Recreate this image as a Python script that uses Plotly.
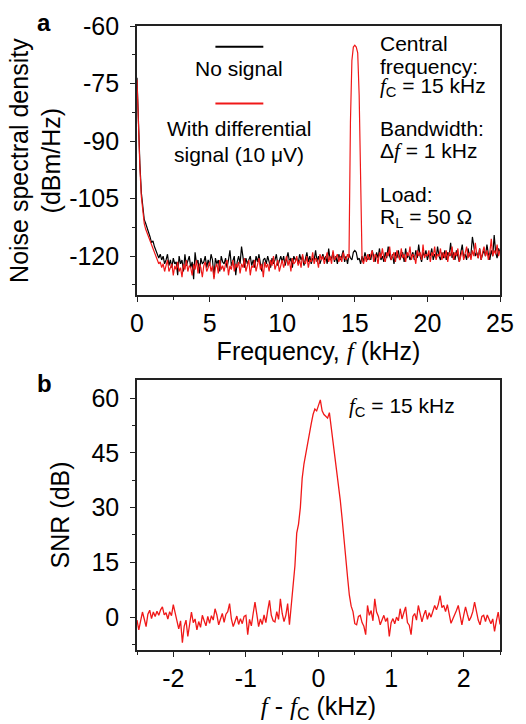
import numpy as np
import plotly.graph_objects as go

# --- Panel a: noise spectral density (dBm/Hz), sampled every 0.1 kHz from 0 to 25 kHz ---
freq_step_khz = 0.1
psd_no_signal = [
    -73.5, -86, -96, -103.5, -108, -110.5, -111.5, -112.5, -114, -115,
    -116.5, -116, -117.5, -118.5, -119, -120.5, -119.5, -121, -120, -122,
    -121, -119.5, -122.5, -121, -123, -120.5, -122, -121.5, -125, -120,
    -122, -121, -124, -119.5, -122.5, -121, -120, -123, -121.5, -126,
    -119, -122, -121, -124.5, -120.5, -122, -121.5, -120, -123, -121,
    -122.5, -119.5, -121, -125.5, -120.5, -122, -121, -124, -120, -121.5,
    -122, -120.5, -123, -121, -118.5, -122.5, -121, -120, -125, -121.5,
    -120, -122, -117.5, -121, -123, -120.5, -122, -121, -120, -122.5,
    -121, -123, -120, -121.5, -119.5, -122, -124, -121, -120.5, -122,
    -120, -121.5, -123, -120.5, -122, -121, -119.5, -122.5, -121, -120,
    -121.5, -120, -122.5, -121, -119, -121.5, -120.5, -123, -120, -121,
    -120.5, -122, -119.5, -121, -120, -122.5, -121, -119, -121.5, -120,
    -122, -120.5, -121, -118.5, -121.5, -120, -122, -120.5, -119.5, -121,
    -120, -122, -118, -121, -120.5, -119, -121.5, -120, -122, -119.5,
    -121, -120, -118.5, -121.5, -120, -122, -119.5, -120.5, -121, -119,
    -118.5, -119, -121, -120.5, -122, -120, -121.5, -119, -120.5, -121,
    -119.5, -121, -118.5, -120, -121.5, -119, -120.5, -118, -121, -120,
    -121.5, -119, -120.5, -117.5, -120, -121, -119.5, -122, -119, -120.5,
    -118.5, -121, -120, -119, -121.5, -118, -120.5, -119.5, -121, -120,
    -119, -121, -118.5, -120.5, -117, -120, -121.5, -119, -120, -118.5,
    -121, -119.5, -120, -118, -121, -119.5, -120.5, -117.5, -120, -121,
    -119, -120.5, -118.5, -121, -119, -120, -116.5, -120.5, -119, -121,
    -118.5, -120, -121.5, -119, -117, -120.5, -119.5, -121, -118, -120,
    -119.5, -115, -117.5, -120, -119, -120.5, -118, -121, -119.5, -118.5,
    -120, -117, -119.5, -121, -118.5, -120, -114.5, -119, -120.5, -118,
    -119,
]
psd_with_signal = [
    -74, -87, -97, -104.5, -109, -111.5, -113, -114, -115.5, -116.5,
    -117.5, -118, -119.5, -120.5, -121, -122, -121.5, -123, -122, -124,
    -122.5, -121, -124, -123, -122, -125, -122.5, -123.5, -121.5, -124,
    -123, -125.5, -122, -123.5, -121, -124, -122.5, -123, -125, -122,
    -123.5, -121, -124.5, -122, -123, -125.5, -122.5, -121.5, -124, -123,
    -121.5, -124, -122.5, -126, -123, -122, -124.5, -121, -123.5, -122.5,
    -124, -122, -121, -125, -122.5, -123.5, -121, -124, -122, -123,
    -121.5, -124.5, -122, -123, -120.5, -124, -122.5, -121, -125, -122.5,
    -123, -121, -124, -122, -120.5, -123.5, -122, -125.5, -121.5, -123,
    -122, -124, -121, -122.5, -120, -123.5, -122, -121, -124, -122.5,
    -121, -123, -121.5, -120, -122.5, -121, -124, -120.5, -122, -121.5,
    -120, -122.5, -121, -123, -119.5, -121.5, -122, -120, -123, -121,
    -121.5, -119, -122, -120.5, -121, -123, -119.5, -121, -120, -122,
    -120.5, -119, -121.5, -120, -122, -118.5, -121, -120, -119.5, -121.5,
    -120, -121.5, -119, -120.5, -121, -119.5, -120.5, -85, -69, -65.5,
    -65, -65.5, -67, -78, -104, -121, -122, -120, -121.5, -119.5,
    -121, -120, -118.5, -121.5, -119.5, -120, -122, -119, -120.5, -118,
    -120.5, -121.5, -119, -120, -117.5, -121, -120, -119, -121.5, -118.5,
    -120, -121, -118, -120.5, -119.5, -121.5, -119, -120, -117.5, -121,
    -119.5, -120, -122, -118.5, -120, -119, -121, -117, -120.5, -119.5,
    -120, -118.5, -121.5, -119, -120, -117.5, -121, -119.5, -120, -118,
    -121, -119, -120.5, -118.5, -121.5, -119, -120, -117.5, -121, -119,
    -120, -118, -121.5, -119.5, -118.5, -121, -119, -117.5, -120.5, -119,
    -121, -118.5, -120, -116.5, -119.5, -120.5, -118, -121, -119, -117.5,
    -120, -118.5, -121, -119, -115.5, -120, -118.5, -119.5, -117, -120,
    -118.5,
]

# --- Panel b: SNR (dB) versus f - fc, sampled every 0.025 kHz from -2.5 to 2.5 kHz ---
detune_step_khz = 0.025
snr_db = [
    -0.8, -3.5, -1.0, 1.4, -0.5, -2.6, 0.8, 1.9, -0.4, 1.4,
    0.2, 1.6, 0.5, 2.0, 2.8, 0.6, 1.2, -0.5, 1.5, 0.4,
    3.4, 1.0, -1.8, -3.2, -1.0, -7.0, -2.5, -0.8, -5.3, -2.0,
    1.4, -1.5, -0.5, -3.5, -1.2, -2.8, 0.5, -1.0, -2.4, 0.2,
    -1.7, 0.4, -0.8, 2.3, 0.6, -2.1, -0.5, 1.0, -1.4, 0.8,
    1.5, 3.7, -0.5, -2.6, -1.2, 0.3, -2.0, -0.4, -1.8, 0.2,
    0.5, -4.8, -0.6, -2.4, 1.0, 4.1, 0.8, -2.6, -0.5, -2.0,
    0.6, -1.5, 1.8, 4.6, 0.5, -1.0, -1.3, 1.5, -0.6, 5.0,
    1.0, -1.2, 0.5, 3.7, -2.1, 4.0, 8.6, 14.0, 23.0, 25.5,
    30.0, 38.0, 42.0, 45.0, 47.5, 50.0, 53.0, 55.5, 57.0, 56.5,
    58.0, 59.5, 56.5, 55.5, 55.0, 54.5, 56.0, 52.0, 48.0, 45.0,
    40.0, 35.5, 32.0, 27.0, 21.0, 15.0, 11.0, 6.0, 3.0, 1.5,
    -1.8, -2.1, 0.2, 0.5, -1.5, -2.5, -4.8, 3.2, 0.5, 1.8,
    -1.0, 5.0, 1.4, 0.2, -2.1, -0.8, 0.5, -1.2, -0.2, -5.3,
    -1.5, -0.4, -1.8, 0.0, -1.0, 2.3, -0.5, 1.2, 2.8, -1.5,
    -2.2, -4.8, 0.2, 1.0, -0.8, 3.2, 0.4, -1.3, 0.6, 1.9,
    -0.6, 1.2, 0.0, 1.8, 3.2, 2.0, 3.5, 5.9, 2.6, 3.2,
    1.5, 3.4, 0.6, -1.7, -0.5, 0.5, 1.8, 3.2, 0.2, -2.1,
    0.5, 2.8, 0.8, -1.0, 0.0, 1.5, 4.1, 1.0, -0.8, -2.1,
    0.2, 0.5, -1.2, 0.6, -0.4, -1.8, -0.5, -3.9, -1.0, 1.4,
    -2.0,
]

# tick labels (hyphen minus, as in the original figure)
psd_ticks = [-60, -75, -90, -105, -120]
psd_tick_text = ["-60", "-75", "-90", "-105", "-120"]
freq_ticks = [0, 5, 10, 15, 20, 25]
snr_ticks = [0, 15, 30, 45, 60]
detune_ticks = [-2, -1, 0, 1, 2]
detune_tick_text = ["-2", "-1", "0", "1", "2"]

freq = np.round(np.arange(len(psd_no_signal)) * freq_step_khz, 3)
detune = np.round(-2.5 + np.arange(len(snr_db)) * detune_step_khz, 3)

FONT = "Liberation Sans, Arial, sans-serif"
RED = "#f01818"
F_IT = '<span style="font-family:Liberation Serif"><i>f</i></span>'

fig = go.Figure()
fig.add_trace(go.Scatter(x=freq, y=psd_no_signal, mode="lines", name="No signal",
                         line=dict(color="black", width=1.2), xaxis="x", yaxis="y"))
fig.add_trace(go.Scatter(x=freq, y=psd_with_signal, mode="lines", name="With differential signal (10 μV)",
                         line=dict(color=RED, width=1.2), xaxis="x", yaxis="y"))
fig.add_trace(go.Scatter(x=detune, y=snr_db, mode="lines", name="SNR",
                         line=dict(color=RED, width=1.3), xaxis="x2", yaxis="y2"))

axis_common = dict(showline=True, linecolor="#222", linewidth=1.6, mirror=True,
                   ticks="outside", ticklen=5, tickwidth=1.4, tickcolor="#222",
                   showgrid=False, zeroline=False, ticklabeloverflow="allow",
                   tickfont=dict(family=FONT, size=25, color="black"),
                   title_font=dict(family=FONT, size=25, color="black"))
minor_common = dict(ticks="outside", ticklen=3, tickwidth=1.2, tickcolor="#222")

fig.update_layout(
    width=526, height=724,
    margin=dict(l=137, r=17, t=21, b=68),
    paper_bgcolor="white", plot_bgcolor="white",
    showlegend=False,
    font=dict(family=FONT, color="black"),
    xaxis=dict(axis_common, domain=[0, 1], anchor="y", range=[0, 25],
               tickvals=freq_ticks,
               minor=dict(minor_common, dtick=2.5, tick0=0),
               title=dict(text=f"Frequency, {F_IT} (kHz)", standoff=5)),
    yaxis=dict(axis_common, domain=[0.5685, 1.0], anchor="x", range=[-130.2, -60],
               tickvals=psd_ticks, ticktext=psd_tick_text, ticklabelstandoff=6,
               minor=dict(minor_common, dtick=7.5, tick0=-60),
               title=dict(text="Noise spectral density<br>(dBm/Hz)", standoff=1)),
    xaxis2=dict(axis_common, domain=[0, 1], anchor="y2", range=[-2.5, 2.5],
                tickvals=detune_ticks, ticktext=detune_tick_text,
                minor=dict(minor_common, dtick=0.5, tick0=0),
                title=dict(text=f"{F_IT} - {F_IT}<sub>C</sub> (kHz)", standoff=3)),
    yaxis2=dict(axis_common, domain=[0.0, 0.433], anchor="x2", range=[-9, 65],
                tickvals=snr_ticks, ticklabelstandoff=6,
                minor=dict(minor_common, dtick=7.5, tick0=0),
                title=dict(text="SNR (dB)", standoff=15)),
)

# legend drawn as in the original: sample line above each label
fig.add_shape(type="line", xref="x", yref="y", x0=5.4, x1=8.7, y0=-65.4, y1=-65.4,
              line=dict(color="black", width=2))
fig.add_shape(type="line", xref="x", yref="y", x0=5.4, x1=8.7, y0=-80.2, y1=-80.2,
              line=dict(color=RED, width=2))

ann_font = dict(family=FONT, size=21, color="black")
legend_lines = [("No signal", -71.2), ("With differential", -86.8), ("signal (10 μV)", -93.5)]
for text, yv in legend_lines:
    fig.add_annotation(x=7.02, y=yv, xref="x", yref="y", text=text, showarrow=False,
                       xanchor="center", yanchor="middle", font=ann_font)

info_lines = [
    ("Central", -64.6),
    ("frequency:", -70.5),
    (f"{F_IT}<sub>C</sub> = 15 kHz", -75.8),
    ("Bandwidth:", -86.8),
    (f"Δ{F_IT} = 1 kHz", -92.7),
    ("Load:", -103.9),
    ("R<sub>L</sub> = 50 Ω", -110.1),
]
for text, yv in info_lines:
    fig.add_annotation(x=16.6, y=yv, xref="x", yref="y", text=text, showarrow=False,
                       xanchor="left", yanchor="middle", font=ann_font)

fig.add_annotation(x=0.39, y=57.6, xref="x2", yref="y2", text=f"{F_IT}<sub>C</sub> = 15 kHz",
                   showarrow=False, xanchor="left", yanchor="middle", font=ann_font)

# panel letters
fig.add_annotation(x=-0.255, y=1.005, xref="paper", yref="paper", text="<b>a</b>", showarrow=False,
                   xanchor="center", yanchor="middle", font=dict(family=FONT, size=24, color="black"))
fig.add_annotation(x=-0.255, y=0.427, xref="paper", yref="paper", text="<b>b</b>", showarrow=False,
                   xanchor="center", yanchor="middle", font=dict(family=FONT, size=24, color="black"))

# drop the page's default body margin so the 526x724 figure fills the window exactly
fig.write_html("out.html", config={"displayModeBar": False},
               post_script="document.body.style.margin='0';"
                           "document.body.style.overflow='hidden';"
                           "document.documentElement.style.overflow='hidden';")
